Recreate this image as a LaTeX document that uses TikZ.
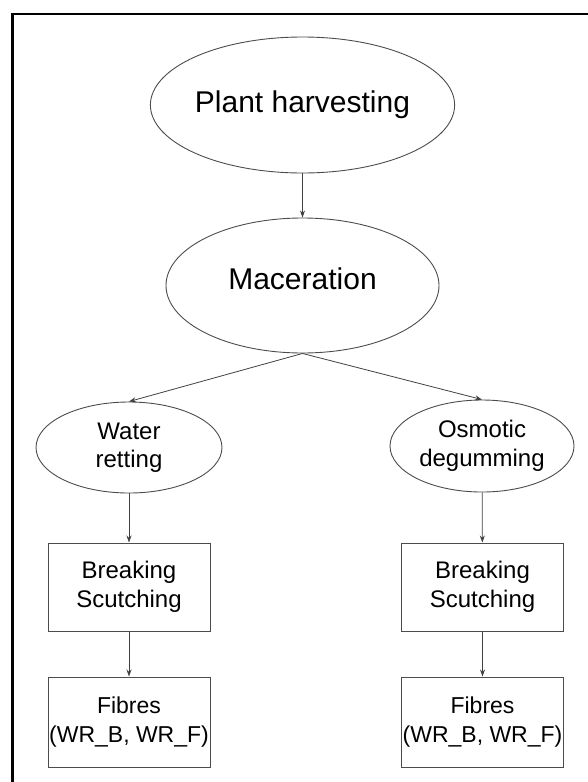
\documentclass[tikz,border=0pt]{standalone}
\usepackage{fontspec}
\setmainfont{Liberation Sans}
\usetikzlibrary{shapes.geometric,arrows.meta}

\tikzset{
  oval/.style={ellipse,draw=black!70,line width=0.9pt,inner sep=0pt,align=center},
  stepbox/.style={rectangle,draw=black!70,line width=1pt,inner sep=0pt,align=center,
    minimum width=162pt},
  big/.style={font=\fontsize{30}{36}\selectfont},
  small/.style={font=\fontsize{24}{28.5}\selectfont},
  flow/.style={->,draw=black!75,line width=0.8pt}
}

\begin{document}
\begin{tikzpicture}[>={Stealth[length=7pt,width=5pt]},x=1pt,y=-1pt]
  \useasboundingbox (0,0) rectangle (588,782);
  % frame, only left and top edges
  \draw[line width=2.6pt] (12.5,782) -- (12.5,14) -- (588,14);

  \node[oval,big,minimum width=273pt,minimum height=136pt] (harvest) at (302.5,105) {Plant harvesting};
  \node[oval,big,minimum width=273pt,minimum height=135pt,text depth=14pt] (macer) at (302.5,285.5) {Maceration};

  \node[oval,small,minimum width=186pt,minimum height=91pt] (water) at (129,447.5) {Water\\retting};
  \node[oval,small,minimum width=184pt,minimum height=92pt] (osmo) at (482,446) {Osmotic\\degumming};

  \node[stepbox,small,minimum height=88pt] (brkA) at (129,587) {Breaking\\Scutching};
  \node[stepbox,small,minimum height=88pt] (brkB) at (482.5,587) {Breaking\\Scutching};

  \node[stepbox,minimum height=90pt,font=\fontsize{23}{28.5}\selectfont] (fibA) at (129,722) {Fibres\\(WR\_B, WR\_F)};
  \node[stepbox,minimum height=90pt,font=\fontsize{23}{28.5}\selectfont] (fibB) at (482.5,722) {Fibres\\(WR\_B, WR\_F)};

  \draw[flow] (harvest) -- (macer);
  \draw[flow] (macer.south) -- (water.north);
  \draw[flow] (macer.south) -- (osmo.north);
  \draw[flow] (water) -- (brkA);
  \draw[flow] (osmo) -- (brkB);
  \draw[flow] (brkA) -- (fibA);
  \draw[flow] (brkB) -- (fibB);
\end{tikzpicture}
\end{document}
